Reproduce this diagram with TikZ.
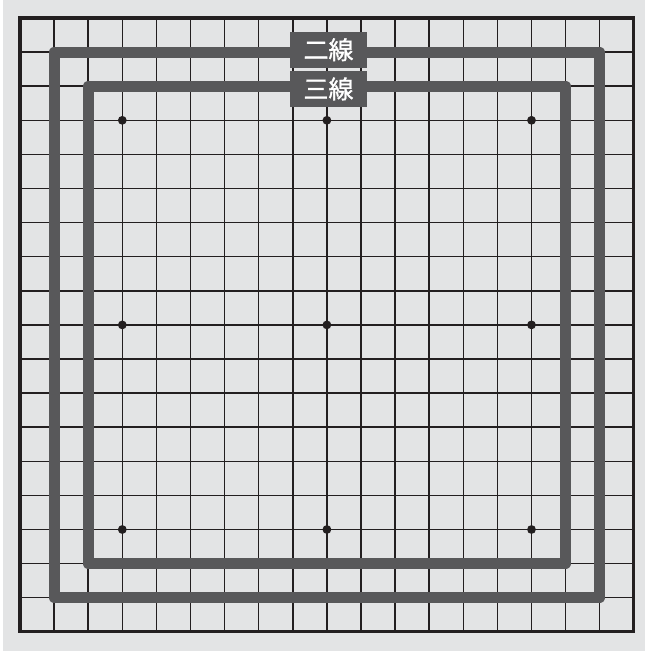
\documentclass[tikz,border=0pt]{standalone}
\usepackage{fontspec}
\newfontfamily\cjk[FakeBold=1.2]{Noto Sans CJK JP}
\definecolor{boardbg}{HTML}{E3E4E5}
\definecolor{bandgray}{HTML}{58585A}
\definecolor{gridline}{HTML}{231F20}
\tikzset{
  lineband/.style={draw=bandgray, line width=11pt, line join=round},
  linelabel/.style={fill=bandgray, text=white, minimum width=77pt, minimum height=36pt,
    inner sep=0pt, font=\cjk\fontsize{25}{25}\selectfont},
}
\begin{document}
\begin{tikzpicture}[x=1pt, y=-1pt]
  \useasboundingbox (0,0) rectangle (645,651);
  \fill[white] (0,0) rectangle (3,651);
  \fill[boardbg] (3,0) rectangle (645,651);
  \foreach \i in {1,...,17} {
    \draw[gridline, line width=1.5pt] ({20+34.1*\i}, 18) -- ({20+34.1*\i}, 631.8);
    \draw[gridline, line width=1.5pt] (20, {18+34.1*\i}) -- (633.8, {18+34.1*\i});
  }
  \draw[gridline, line width=3.2pt] (20,18) rectangle (633.8,631.8);
  \draw[lineband] ({20+34.1}, {18+34.1}) rectangle ({20+34.1*17}, {18+34.1*17});
  \draw[lineband] ({20+34.1*2}, {18+34.1*2}) rectangle ({20+34.1*16}, {18+34.1*16});
  \foreach \i in {3,9,15}
    \foreach \j in {3,9,15}
      \fill[gridline] ({20+34.1*\i}, {18+34.1*\j}) circle (4.4pt);
  \node[linelabel] (second) at (328.5, 49.7) {二線};
  \node[linelabel] (third) at (328.5, 88.9) {三線};
\end{tikzpicture}
\end{document}
